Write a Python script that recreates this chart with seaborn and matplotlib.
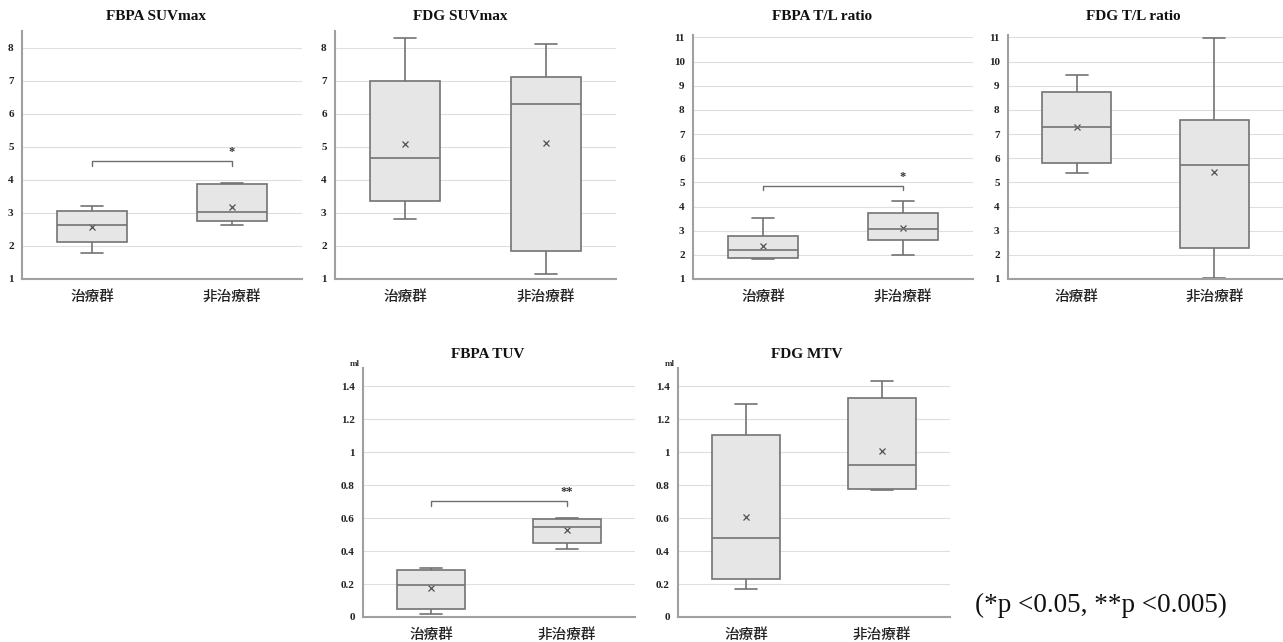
import numpy as np
import pandas as pd
import matplotlib
matplotlib.use("Agg")
import matplotlib.pyplot as plt
import seaborn as sns

sns.set_style("white")
plt.rcParams['font.family'] = ['Liberation Serif', 'Noto Sans CJK JP', 'DejaVu Sans']

groups = ['治療群', '非治療群']
titles = ['FBPA SUVmax', 'FDG SUVmax', 'FBPA T/L ratio', 'FDG T/L ratio', 'FBPA TUV', 'FDG MTV']

# five-number summaries: [min, Q1, median, Q3, max]
fbpa_suv_treat = [1.78, 2.11, 2.64, 3.07, 3.20]
fbpa_suv_non = [2.64, 2.76, 3.04, 3.87, 3.89]
fdg_suv_treat = [2.82, 3.37, 4.66, 6.99, 8.28]
fdg_suv_non = [1.15, 1.86, 6.28, 7.10, 8.10]
fbpa_tl_treat = [1.83, 1.87, 2.21, 2.80, 3.52]
fbpa_tl_non = [1.98, 2.60, 3.08, 3.75, 4.21]
fdg_tl_treat = [5.40, 5.79, 7.29, 8.72, 9.46]
fdg_tl_non = [1.04, 2.29, 5.73, 7.57, 10.96]
fbpa_tuv_treat = [0.016, 0.051, 0.196, 0.283, 0.299]
fbpa_tuv_non = [0.414, 0.449, 0.545, 0.592, 0.600]
fdg_mtv_treat = [0.172, 0.228, 0.481, 1.103, 1.293]
fdg_mtv_non = [0.768, 0.774, 0.919, 1.331, 1.430]

# means (x markers)
means = [[2.57, 3.19], [5.07, 5.12], [2.35, 3.12], [7.29, 5.43], [0.176, 0.525], [0.604, 1.006]]

# significance brackets: panel index -> (height, label)
brackets = {0: (4.57, '*'), 2: (4.87, '*'), 4: (0.705, '**')}

summaries = [
    (fbpa_suv_treat, fbpa_suv_non),
    (fdg_suv_treat, fdg_suv_non),
    (fbpa_tl_treat, fbpa_tl_non),
    (fdg_tl_treat, fdg_tl_non),
    (fbpa_tuv_treat, fbpa_tuv_non),
    (fdg_mtv_treat, fdg_mtv_non),
]

W, H = 1283, 642
# axes rectangles in pixels: left, top, right, bottom
rects = [
    (22, 31, 302, 279),
    (335, 31, 616, 279),
    (693, 35, 973, 279),
    (1008, 35, 1283, 279),
    (363, 368, 635, 617),
    (678, 368, 950, 617),
]
title_pos = [(156, 17), (460, 17), (822, 17), (1133, 17), (488, 355), (807, 355)]
ylims = [(1, 8.5), (1, 8.5), (1, 11.1), (1, 11.1), (0, 1.51), (0, 1.51)]
yticks = [range(1, 9), range(1, 9), range(1, 12), range(1, 12),
          [0, 0.2, 0.4, 0.6, 0.8, 1, 1.2, 1.4], [0, 0.2, 0.4, 0.6, 0.8, 1, 1.2, 1.4]]

fig = plt.figure(figsize=(W / 100, H / 100), dpi=100)
box_edge = '#737373'

for i, (l, t, r, b) in enumerate(rects):
    ax = fig.add_axes([l / W, 1 - b / H, (r - l) / W, (b - t) / H])
    treat, non = summaries[i]
    df = pd.DataFrame({'group': [groups[0]] * 5 + [groups[1]] * 5,
                       'value': treat + non})
    sns.boxplot(data=df, x='group', y='value', order=groups, whis=np.inf,
                width=0.5, color='#e6e6e6', saturation=1, linecolor=box_edge,
                linewidth=1.2, capwidths=0.16, ax=ax)
    ax.plot([0, 1], means[i], ls='none', marker='x', ms=4, mew=0.9, color='#505050')

    if i in brackets:
        h, lab = brackets[i]
        lo, hi = ylims[i]
        d = (hi - lo) * 0.02
        ax.plot([0, 0, 1, 1], [h - d, h, h, h - d], color='#6e6e6e', lw=1.0)
        ax.text(1, h + d * 0.5, lab, ha='center', va='bottom', fontsize=9,
                fontweight='bold', color='#333333')

    ax.set_xlim(-0.5, 1.5)
    ax.set_ylim(*ylims[i])
    ax.set_yticks(list(yticks[i]))
    if i >= 4:
        ax.set_yticklabels(['0', '0.2', '0.4', '0.6', '0.8', '1', '1.2', '1.4'])
        ax.text(-0.01, 1.0, 'ml', transform=ax.transAxes, ha='right', va='bottom',
                fontsize=6.5, fontweight='bold', color='#333333')
    ax.set_xlabel('')
    ax.set_ylabel('')
    tx, ty = title_pos[i]
    fig.text(tx / W, 1 - ty / H, titles[i], fontsize=11, fontweight='bold',
             ha='center', va='center', color='#111111')
    ax.yaxis.grid(True, color='#dedede', lw=0.8)
    ax.set_axisbelow(True)
    for s in ['top', 'right']:
        ax.spines[s].set_visible(False)
    for s in ['left', 'bottom']:
        ax.spines[s].set_color('#a0a0a0')
        ax.spines[s].set_linewidth(1.5)
    ax.tick_params(axis='both', length=0)
    ax.tick_params(axis='y', labelsize=8, pad=6)
    ax.tick_params(axis='x', labelsize=10.5, pad=8)
    for lbl in ax.get_yticklabels():
        lbl.set_fontweight('bold')
        lbl.set_color('#222222')
    for lbl in ax.get_xticklabels():
        lbl.set_family('Noto Sans CJK JP')
        lbl.set_fontweight('medium')
        lbl.set_color('#222222')

fig.text(975 / W, 1 - 605 / H, '(*p <0.05, **p <0.005)', fontsize=19.5,
         ha='left', va='center', color='#111111')

fig.savefig('out.png', dpi=100)
